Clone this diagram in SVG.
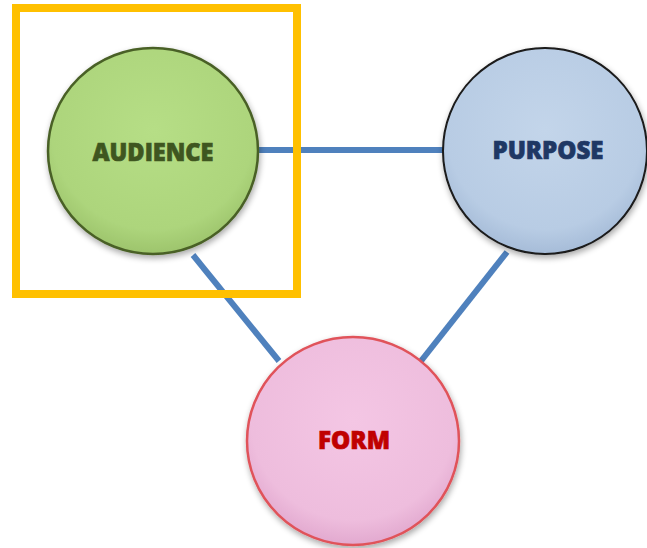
<svg xmlns="http://www.w3.org/2000/svg" width="647" height="548" viewBox="0 0 647 548">
  <style>
    .link { stroke: #4F81BD; stroke-width: 6; fill: none; }
    .label { font-family: "Open Sans", "Noto Sans", "Liberation Sans", sans-serif; font-weight: 800; text-anchor: middle; stroke-width: 0.7; }
  </style>
  <defs>
    <radialGradient id="gGreen" cx="50%" cy="40%" r="60%">
      <stop offset="0" stop-color="#B6DE86"/>
      <stop offset="0.8" stop-color="#ADD57C"/>
      <stop offset="1" stop-color="#9DC46C"/>
    </radialGradient>
    <radialGradient id="gBlue" cx="50%" cy="40%" r="60%">
      <stop offset="0" stop-color="#C3D5EA"/>
      <stop offset="0.8" stop-color="#B8CCE4"/>
      <stop offset="1" stop-color="#A6BCD8"/>
    </radialGradient>
    <radialGradient id="gPink" cx="50%" cy="40%" r="60%">
      <stop offset="0" stop-color="#F4C6E4"/>
      <stop offset="0.8" stop-color="#EEBDDD"/>
      <stop offset="1" stop-color="#E2A9CF"/>
    </radialGradient>
    <filter id="shadow" x="-20%" y="-20%" width="140%" height="140%">
      <feGaussianBlur in="SourceAlpha" stdDeviation="3"/>
      <feOffset dx="1" dy="3" result="b"/>
      <feComponentTransfer><feFuncA type="linear" slope="0.35"/></feComponentTransfer>
      <feMerge><feMergeNode/><feMergeNode in="SourceGraphic"/></feMerge>
    </filter>
  </defs>

  <!-- connectors -->
  <g id="connectors">
    <line class="link" x1="258" y1="150" x2="444" y2="150"/>
    <line class="link" x1="193" y1="255" x2="279" y2="361"/>
    <line class="link" x1="507" y1="252" x2="421" y2="361"/>
  </g>

  <!-- nodes -->
  <g id="audience">
    <ellipse cx="153" cy="151" rx="105" ry="103" fill="url(#gGreen)" stroke="#4A6126" stroke-width="2.5" filter="url(#shadow)"/>
    <text class="label" x="153" y="161" font-size="25" fill="#3F5620" stroke="#3F5620" textLength="121" lengthAdjust="spacingAndGlyphs">AUDIENCE</text>
  </g>
  <g id="purpose">
    <ellipse cx="545" cy="151" rx="102" ry="103" fill="url(#gBlue)" stroke="#1A1A1A" stroke-width="2" filter="url(#shadow)"/>
    <text class="label" x="548" y="159" font-size="24" fill="#1F3864" stroke="#1F3864" textLength="111" lengthAdjust="spacingAndGlyphs">PURPOSE</text>
  </g>
  <g id="form">
    <ellipse cx="353" cy="441" rx="106" ry="104" fill="url(#gPink)" stroke="#E0535A" stroke-width="2.5" filter="url(#shadow)"/>
    <text class="label" x="354" y="449" font-size="24" fill="#C00000" stroke="#C00000" textLength="72" lengthAdjust="spacingAndGlyphs">FORM</text>
  </g>

  <!-- highlight frame -->
  <rect id="highlight" x="16" y="8" width="281" height="286" fill="none" stroke="#FFC000" stroke-width="8"/>
</svg>
